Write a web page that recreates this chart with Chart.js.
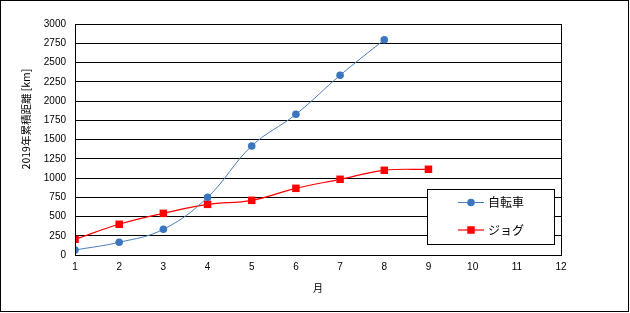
<!DOCTYPE html>
<html><head><meta charset="utf-8">
<script src="https://cdn.jsdelivr.net/npm/chart.js@4/dist/chart.umd.min.js"></script>
<style>html,body{margin:0;padding:0;background:#fff}#wrap{width:630px;height:313px;position:relative}</style>
</head><body><div id="wrap"><canvas id="c" width="630" height="313"></canvas></div>
<script>
const bikeMonths = [1,2,3,4,5,6,7,8];
const bikeKm = [65,165,334,749,1416,1827,2334,2796];
const jogMonths = [1,2,3,4,5,6,7,8,9];
const jogKm = [204,399,541,658,710,866,983,1100,1113];
const seriesNames = ['自転車','ジョグ'];
const yTitle = '2019年累積距離 [km]';
const xTitle = '月';

const FONT = '"Noto Sans CJK JP", "Liberation Sans", sans-serif';
const NUMFONT = '"Liberation Sans", "DejaVu Sans", sans-serif';

const frame = {
  id: 'frame',
  beforeDraw(chart) {
    const c = chart.ctx;
    c.save();
    c.fillStyle = '#fff';
    c.fillRect(0,0,chart.width,chart.height);
    c.restore();
  },
  afterDatasetsDraw(chart) {
    const c = chart.ctx, a = chart.chartArea;
    c.save();
    c.strokeStyle = '#000'; c.lineWidth = 1;
    c.strokeRect(Math.round(a.left)+0.5, Math.round(a.top)+0.5, Math.round(a.right-a.left), Math.round(a.bottom-a.top));
    c.strokeRect(0.5, 0.5, 628, 311);
    c.translate(26, 119);
    c.rotate(-Math.PI/2);
    c.fillStyle = '#000';
    c.font = '10.5px ' + FONT;
    c.textAlign = 'center'; c.textBaseline = 'middle';
    c.fillText(yTitle, 0, 0);
    c.restore();
    c.save();
    const x0 = 427.5, y0 = 189.5, w = 127, h = 55;
    c.fillStyle = '#fff'; c.fillRect(x0, y0, w, h);
    c.strokeStyle = '#000'; c.lineWidth = 1; c.strokeRect(x0, y0, w, h);
    const rows = [202.5, 230];
    chart.data.datasets.forEach((ds, i) => {
      const y = rows[i];
      c.strokeStyle = ds.borderColor; c.lineWidth = ds.borderWidth;
      c.beginPath(); c.moveTo(458, y); c.lineTo(484, y); c.stroke();
      c.fillStyle = ds.pointBackgroundColor; c.strokeStyle = ds.pointBorderColor;
      Chart.helpers.drawPoint(c, {pointStyle: ds.pointStyle, radius: ds.pointRadius, borderWidth: 0}, 471, y);
      c.fillStyle = '#000';
      c.font = '12px ' + FONT;
      c.textAlign = 'left'; c.textBaseline = 'middle';
      c.fillText(ds.label, 488, y);
    });
    c.restore();
  }
};

new Chart(document.getElementById('c'), {
  type: 'line',
  data: {
    datasets: [
      {
        label: seriesNames[0],
        data: bikeMonths.map((m,i) => ({x: m, y: bikeKm[i]})),
        borderColor: '#4A7EBB', borderWidth: 1,
        pointStyle: 'circle', pointRadius: 3.8,
        pointBackgroundColor: '#3C76BE', pointBorderColor: '#3C76BE', pointBorderWidth: 0,
        tension: 0.4, cubicInterpolationMode: 'default'
      },
      {
        label: seriesNames[1],
        data: jogMonths.map((m,i) => ({x: m, y: jogKm[i]})),
        borderColor: '#FF0000', borderWidth: 1.2,
        pointStyle: 'rect', pointRadius: 5.3,
        pointBackgroundColor: '#FF0000', pointBorderColor: '#FF0000', pointBorderWidth: 0,
        tension: 0.4
      }
    ]
  },
  options: {
    responsive: false, animation: false, devicePixelRatio: 1,
    layout: {padding: {top: 24, right: 69, left: 0, bottom: 0}},
    plugins: {legend: {display: false}, tooltip: {enabled: false}},
    scales: {
      x: {
        type: 'linear', min: 1, max: 12,
        afterFit(s) { s.height = 58; },
        grid: {display: false, drawTicks: false},
        border: {display: true, color: '#000', width: 1},
        ticks: {stepSize: 1, padding: 6, color: '#000', font: {family: NUMFONT, size: 10}, callback: v => String(v)},
        title: {display: true, text: xTitle, color: '#000', font: {family: FONT, size: 10}, padding: {top: 0, bottom: 19}}
      },
      y: {
        min: 0, max: 3000,
        afterFit(s) { s.width = 75; },
        grid: {color: '#000', lineWidth: 1, drawTicks: false},
        border: {display: true, color: '#000', width: 1},
        ticks: {stepSize: 250, padding: 9, color: '#000', font: {family: NUMFONT, size: 10}, callback: v => String(v)}
      }
    }
  },
  plugins: [frame]
});
</script>
</body></html>
